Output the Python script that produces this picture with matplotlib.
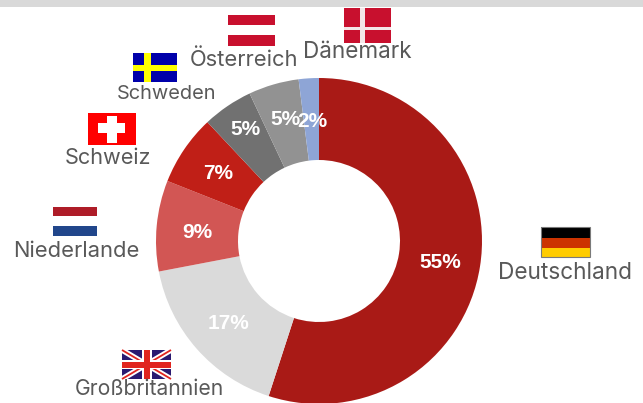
import matplotlib
matplotlib.use("Agg")
import matplotlib.pyplot as plt
from matplotlib.patches import Rectangle

W, H = 643, 403
countries = ["Deutschland", "Großbritannien", "Niederlande", "Schweiz", "Schweden", "Österreich", "Dänemark"]
shares = [55, 17, 9, 7, 5, 5, 2]
wedge_colors = ["#A91A16", "#DADADA", "#D25654", "#C01F17", "#717171", "#929292", "#8EA5D6"]
label_centers = [(564.5, 273), (149, 389), (76, 251), (107.5, 158), (167, 94), (244, 60), (357, 52)]
label_sizes = [16.3, 15.2, 15.8, 15.6, 14.4, 15.8, 16.2]
pct_offsets = [(1, 2), (1, 2), (0, 3), (0, 1), (-5, -10), (1, -4), (1, 3)]

fig = plt.figure(figsize=(W / 100, H / 100), dpi=100)
ax = fig.add_axes([0, 0, 1, 1])

def Y(y):
    return H - y

def rect(x0, y0, x1, y1, color, z=3, **kw):
    ax.add_patch(Rectangle((x0, Y(y1)), x1 - x0, y1 - y0, facecolor=color, edgecolor="none", zorder=z, **kw))

wedges, _, autotexts = ax.pie(
    shares, colors=wedge_colors, startangle=90, counterclock=False,
    center=(319, Y(241)), radius=163, frame=True,
    wedgeprops=dict(width=82, edgecolor="none"),
    autopct="%.0f%%", pctdistance=0.75,
    textprops=dict(color="white", fontweight="bold", fontsize=15, family="Liberation Sans"),
)
for t, (dx, dy) in zip(autotexts, pct_offsets):
    px, py = t.get_position()
    t.set_position((px + dx, py - dy))
    t.set_zorder(5)

ax.set_xlim(0, W)
ax.set_ylim(0, H)
ax.set_aspect("equal")
ax.axis("off")

rect(0, 0, W, 7, "#D9D9D9")

for name, (cx, cy), size in zip(countries, label_centers, label_sizes):
    ax.text(cx, Y(cy), name, ha="center", va="center", fontsize=size, color="#595959", family="Inter", zorder=6)

# Denmark
rect(344, 8, 391, 43, "#C8102E")
rect(360, 8, 364.5, 43, "#F3E6E8", 4)
rect(344, 27, 391, 29.5, "#F3E6E8", 4)
# Austria
rect(228, 15, 275, 46, "#C8102E")
rect(228, 25, 275, 35, "white", 4)
# Sweden
rect(133, 53, 177, 82, "#0000AA")
rect(144, 53, 151, 82, "#FFFF00", 4)
rect(133, 65, 177, 71, "#FFFF00", 4)
# Switzerland
rect(88, 113, 136, 145, "#FF0000")
rect(98, 123, 125, 133, "white", 4)
rect(107, 116, 117, 143, "white", 4)
# Netherlands
rect(53, 207, 97, 216, "#AE1C28")
rect(53, 226, 97, 236, "#21468B")
# Great Britain
x0, x1, y0, y1 = 122, 171, 350, 379
rect(x0, y0, x1, y1, "#2A1A70")
for (a, b, c, d) in [(x0, y0, x1, y1), (x0, y1, x1, y0)]:
    ax.plot([a, c], [Y(b), Y(d)], color="white", lw=4, solid_capstyle="butt", zorder=4)
    ax.plot([a, c], [Y(b), Y(d)], color="#E0251F", lw=1.3, solid_capstyle="butt", zorder=4.1)
rect(142, y0, 152, y1, "white", 4.2)
rect(x0, 360, x1, 369, "white", 4.2)
rect(143.5, y0, 150, y1, "#E0251F", 4.3)
rect(x0, 361.5, x1, 367.5, "#E0251F", 4.3)
# Germany
rect(541, 227, 590, 237.5, "#000000")
rect(541, 237.5, 590, 247.5, "#CC3300")
rect(541, 247.5, 590, 257, "#FFCC00")
ax.add_patch(Rectangle((541, Y(257)), 49, 30, fill=False, edgecolor="#7A7A7A", lw=0.8, zorder=4))

fig.savefig("out.png", dpi=100)
